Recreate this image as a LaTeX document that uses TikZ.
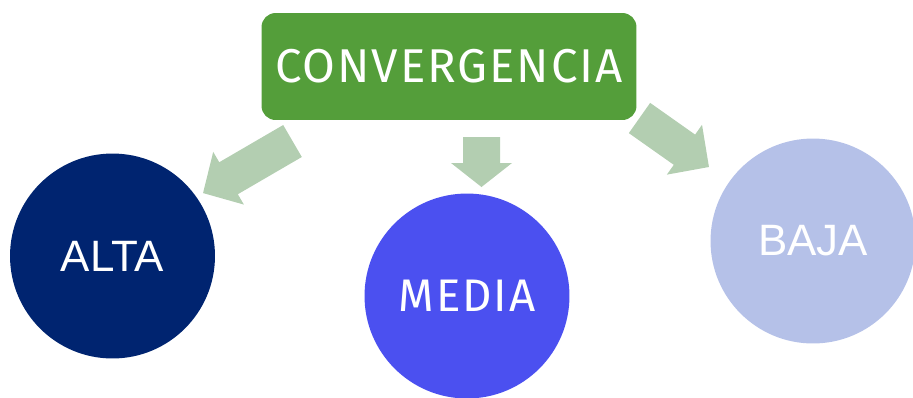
\documentclass[tikz,border=0pt]{standalone}
\usepackage{fontspec}
\setmainfont{Fira Sans}[LetterSpace=4]
\newfontfamily\arialfont{Liberation Sans}
\usetikzlibrary{positioning}

\definecolor{boxgreen}{RGB}{84,158,58}
\definecolor{altablue}{RGB}{0,36,112}
\definecolor{mediablue}{RGB}{75,80,240}
\definecolor{bajablue}{RGB}{181,193,232}
\definecolor{arrowgreen}{RGB}{179,206,177}

\tikzset{%
  x=0.02cm, y=-0.02cm,
  titlebox/.style={fill=boxgreen, rounded corners=8pt, minimum width=7.5cm,
    minimum height=2.14cm, text=white, font=\fontsize{27}{30}\selectfont},
  level/.style={circle, minimum size=4.1cm, inner sep=0pt, text=white,
    font=\fontsize{26}{30}\selectfont},
  pics/fatarrow/.style n args={2}{code={%
    \fill[arrowgreen] (0,-18.5) -- (#1-#2,-18.5) -- (#1-#2,-30.5) -- (#1,0)
      -- (#1-#2,30.5) -- (#1-#2,18.5) -- (0,18.5) -- cycle;
  }}
}

\begin{document}
\begin{tikzpicture}
  \useasboundingbox (0,0) rectangle (913,397);

  \node[titlebox] (conv) at (449,66.5) {CONVERGENCIA};

  \node[level, fill=altablue, font=\arialfont\fontsize{25}{30}\selectfont] (alta) at (112.5,256) {ALTA};
  \node[level, fill=mediablue] (media) at (467,296) {MEDIA};
  \node[level, fill=bajablue, font=\arialfont\fontsize{25}{30}\selectfont] (baja) at (813,241) {BAJA};

  % block arrows between the box and the circles
  \pic[rotate=210.2] at (292.5,141) {fatarrow={103.5}{29.5}};
  \pic[rotate=-90] at (481.5,137) {fatarrow={50}{24}};
  \pic[rotate=-35.2] at (639.5,118) {fatarrow={85}{30}};
\end{tikzpicture}
\end{document}
